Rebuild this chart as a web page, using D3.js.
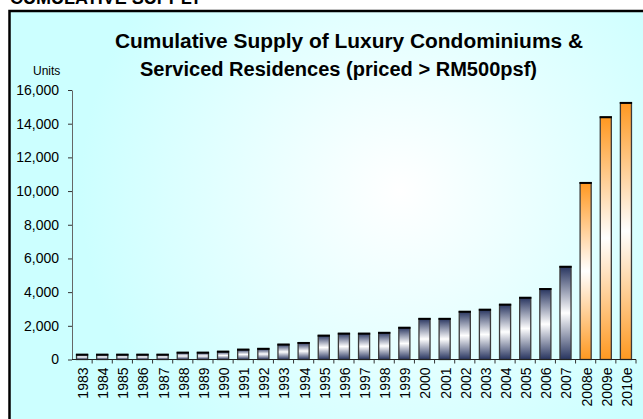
<!DOCTYPE html>
<html>
<head>
<meta charset="utf-8">
<script src="https://cdn.jsdelivr.net/npm/d3@7"></script>
<style>
    html, body { margin: 0; padding: 0; background: #fff; overflow: hidden; }
    svg { display: block; font-family: "Liberation Sans", Arial, sans-serif; }
</style>
</head>
<body>
<svg id="chart" width="643" height="419"></svg>
<script>
// chart data
const years = ['1983', '1984', '1985', '1986', '1987', '1988', '1989', '1990', '1991', '1992',
    '1993', '1994', '1995', '1996', '1997', '1998', '1999', '2000', '2001', '2002',
    '2003', '2004', '2005', '2006', '2007', '2008e', '2009e', '2010e'];
const units = [300, 300, 300, 300, 300, 420, 420, 480, 600, 650,
    900, 1000, 1430, 1550, 1550, 1600, 1900, 2430, 2430, 2850,
    2970, 3270, 3680, 4200, 5520, 10500, 14400, 15250];
const yTicks = [0, 2000, 4000, 6000, 8000, 10000, 12000, 14000, 16000];
const titleLines = ['Cumulative Supply of Luxury Condominiums &', 'Serviced Residences (priced > RM500psf)'];

const W = 643, H = 419;
const PLOT = { left: 72, right: 636, top: 90, bottom: 359.5 };

const svg = d3.select('#chart');
const defs = svg.append('defs');

// background glow
const bg = defs.append('radialGradient').attr('id', 'bgGlow')
    .attr('gradientUnits', 'userSpaceOnUse')
    .attr('cx', 400).attr('cy', 190).attr('r', 320);
bg.append('stop').attr('offset', '0%').attr('stop-color', '#ffffff');
bg.append('stop').attr('offset', '100%').attr('stop-color', '#ccffff');

const makeBarGrad = (id, edge) => {
    const g = defs.append('linearGradient').attr('id', id)
        .attr('x1', 0).attr('y1', 0).attr('x2', 0).attr('y2', 1);
    g.append('stop').attr('offset', '0%').attr('stop-color', edge);
    g.append('stop').attr('offset', '50%').attr('stop-color', '#ffffff');
    g.append('stop').attr('offset', '100%').attr('stop-color', edge);
};
makeBarGrad('gradActual', '#27345f');
makeBarGrad('gradEst', '#ff9820');

// partial heading cut off at the top
svg.append('text')
    .attr('x', 10).attr('y', 4)
    .attr('font-size', 18).attr('font-weight', 'bold')
    .text('CUMULATIVE SUPPLY');

// frame
svg.append('rect')
    .attr('x', 9.5).attr('y', 11)
    .attr('width', W).attr('height', H)
    .attr('fill', 'url(#bgGlow)')
    .attr('stroke', '#000').attr('stroke-width', 2.5);

// title
svg.selectAll('.title')
    .data(titleLines)
    .join('text')
    .attr('class', 'title')
    .attr('x', (d, i) => (i === 0 ? 115 : 140))
    .attr('y', (d, i) => 48 + i * 28)
    .attr('font-size', 20).attr('font-weight', 'bold')
    .attr('textLength', (d, i) => (i === 0 ? 468 : 397))
    .attr('lengthAdjust', 'spacingAndGlyphs')
    .text(d => d);

const x = d3.scaleBand().domain(years).range([PLOT.left, PLOT.right]).padding(0);
const y = d3.scaleLinear().domain([0, 16000]).range([PLOT.bottom, PLOT.top]);
const bw = x.bandwidth();

// units label
svg.append('text')
    .attr('x', 33).attr('y', 75)
    .attr('font-size', 12)
    .text('Units');

// y axis
const yAxis = svg.append('g')
    .attr('class', 'axis axis--y')
    .attr('transform', `translate(${PLOT.left}, 0)`)
    .call(d3.axisLeft(y).tickValues(yTicks).tickFormat(d3.format(',')).tickSize(4).tickSizeOuter(0).tickPadding(9));
yAxis.select('.domain').attr('stroke', '#666');
yAxis.selectAll('.tick line').attr('stroke', '#333');
yAxis.selectAll('.tick text').attr('font-size', 14).attr('fill', '#000')
    .attr('font-family', '"Liberation Sans", Arial, sans-serif');

// bars
const bars = svg.append('g').attr('class', 'bars');
bars.selectAll('rect')
    .data(years)
    .join('rect')
    .attr('x', d => x(d) + bw * 0.225)
    .attr('y', (d, i) => y(units[i]))
    .attr('width', bw * 0.55)
    .attr('height', (d, i) => y(0) - y(units[i]))
    .attr('fill', d => (d.endsWith('e') ? 'url(#gradEst)' : 'url(#gradActual)'))
    .attr('stroke', '#3b3b3b').attr('stroke-width', 1.3);
bars.selectAll('line')
    .data(years)
    .join('line')
    .attr('x1', d => x(d) + bw * 0.225 - 0.6)
    .attr('x2', d => x(d) + bw * 0.775 + 0.6)
    .attr('y1', (d, i) => y(units[i]) + 0.3)
    .attr('y2', (d, i) => y(units[i]) + 0.3)
    .attr('stroke', '#000').attr('stroke-width', 2);

// x axis
const xAxis = svg.append('g').attr('class', 'axis axis--x');
xAxis.append('line')
    .attr('x1', PLOT.left).attr('x2', PLOT.right)
    .attr('y1', y(0)).attr('y2', y(0))
    .attr('stroke', '#222').attr('stroke-width', 1.2);
xAxis.selectAll('.xtick')
    .data(years.slice(1).concat(['end']))
    .join('line')
    .attr('class', 'xtick')
    .attr('x1', d => (d === 'end' ? PLOT.right : x(d)))
    .attr('x2', d => (d === 'end' ? PLOT.right : x(d)))
    .attr('y1', y(0)).attr('y2', y(0) + 4)
    .attr('stroke', '#333');
xAxis.selectAll('.xlabel')
    .data(years)
    .join('text')
    .attr('class', 'xlabel')
    .attr('transform', d => `translate(${x(d) + bw / 2 + 1}, ${y(0) + 8}) rotate(-90)`)
    .attr('dy', '0.35em')
    .attr('text-anchor', 'end')
    .attr('font-size', 14)
    .text(d => d);
</script>
</body>
</html>
